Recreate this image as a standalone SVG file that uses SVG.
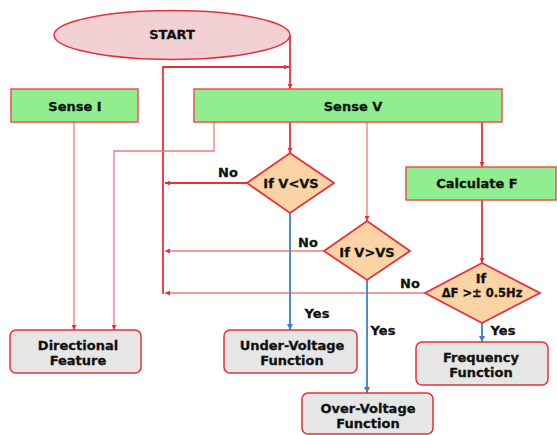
<svg xmlns="http://www.w3.org/2000/svg" width="557" height="435" viewBox="0 0 557 435">
<style>
text{font-family:"DejaVu Sans","Liberation Sans",sans-serif;font-weight:bold;font-size:13px;fill:#111;stroke:#111;stroke-width:0.3;text-anchor:middle;dominant-baseline:central}
.green{fill:#90ee90;stroke:#f05050;stroke-width:1.5}
.dia{fill:#fcd3a4;stroke:#e8303a;stroke-width:1.8}
.out{fill:#e6e6e6;stroke:#e8303a;stroke-width:1.5}
.r{fill:none;stroke:#e8303a;stroke-width:1.8}
.l{fill:none;stroke:#f07878;stroke-width:1.3}
.b{fill:none;stroke:#3a82c8;stroke-width:1.8}
</style>
<defs>
<marker id="ar" viewBox="0 0 10 10" refX="10" refY="5" markerWidth="5" markerHeight="5" orient="auto" markerUnits="userSpaceOnUse"><path d="M0,0L10,5L0,10z" fill="#e8303a"/></marker>
<marker id="ab" viewBox="0 0 10 10" refX="10" refY="5" markerWidth="6" markerHeight="6" orient="auto" markerUnits="userSpaceOnUse"><path d="M0,0L10,5L0,10z" fill="#3a82c8"/></marker>
</defs>
<g id="connectors">
<path class="r" d="M290,35V89" marker-end="url(#ar)"/>
<path class="r" d="M163,294V67H289" marker-end="url(#ar)"/>
<path class="r" d="M290,122V153" marker-end="url(#ar)"/>
<path class="r" d="M248,183H165" marker-end="url(#ar)"/>
<path class="r" d="M482,122V167" marker-end="url(#ar)"/>
<path class="r" d="M482,200V263" marker-end="url(#ar)"/>
<path class="l" d="M74,122V330" marker-end="url(#ar)"/>
<path class="l" d="M214,122V151H114V330" marker-end="url(#ar)"/>
<path class="l" d="M367,122V221" marker-end="url(#ar)"/>
<path class="l" d="M324,251H165" marker-end="url(#ar)"/>
<path class="l" d="M425,293H165" marker-end="url(#ar)"/>
<path class="b" d="M290,213V330" marker-end="url(#ab)"/>
<path class="b" d="M367,280V393" marker-end="url(#ab)"/>
<path class="b" d="M482,323V342" marker-end="url(#ab)"/>
<text x="228" y="172">No</text>
<text x="308" y="242">No</text>
<text x="410" y="283">No</text>
<text x="317" y="313">Yes</text>
<text x="383" y="330">Yes</text>
<text x="503" y="330">Yes</text>
</g>
<g id="start"><ellipse cx="172" cy="35" rx="118" ry="24.5" fill="#f3d0d3" stroke="#e8303a" stroke-width="1.5"/><text x="172" y="34">START</text></g>
<g id="senseI"><rect class="green" x="11" y="89" width="127" height="33"/><text x="75" y="106">Sense I</text></g>
<g id="senseV"><rect class="green" x="194" y="89" width="308" height="33"/><text x="353" y="106">Sense V</text></g>
<g id="calcF"><rect class="green" x="406" y="167" width="150" height="33"/><text x="477" y="183">Calculate F</text></g>
<g id="d1"><path class="dia" d="M290,153L334,183L290,213L247,183Z"/><text x="291" y="183">If V&lt;VS</text></g>
<g id="d2"><path class="dia" d="M367,221L410,251L367,280L324,251Z"/><text x="367" y="252">If V&gt;VS</text></g>
<g id="d3"><path class="dia" d="M482,263L540,293L482,323L425,293Z"/><text x="481" y="278">If</text><text x="482" y="293" style="font-size:11.5px">ΔF &gt;± 0.5Hz</text></g>
<g id="dir"><rect class="out" x="10" y="330" width="131" height="43" rx="6"/><text x="78" y="345">Directional</text><text x="78" y="360">Feature</text></g>
<g id="uv"><rect class="out" x="224" y="330" width="133" height="43" rx="6"/><text x="292" y="345">Under-Voltage</text><text x="292" y="360">Function</text></g>
<g id="ff"><rect class="out" x="416" y="342" width="132" height="43" rx="6"/><text x="481" y="357">Frequency</text><text x="481" y="372">Function</text></g>
<g id="ov"><rect class="out" x="302" y="393" width="131" height="41" rx="6"/><text x="368" y="408">Over-Voltage</text><text x="368" y="423">Function</text></g>
</svg>
